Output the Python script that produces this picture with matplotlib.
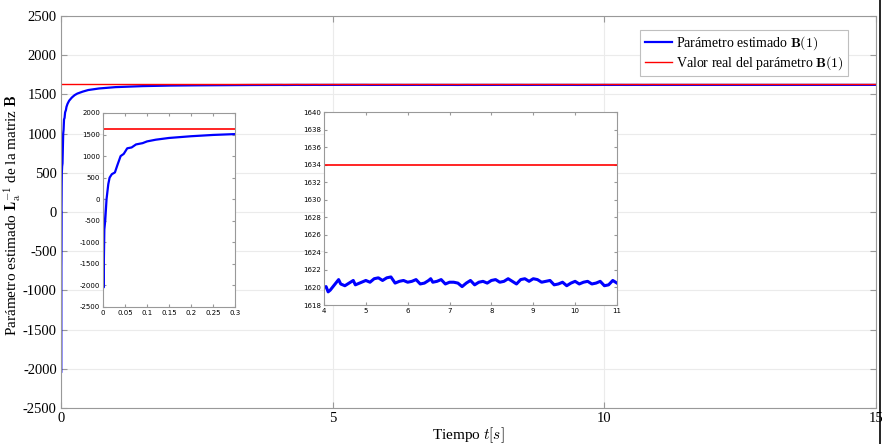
import matplotlib
matplotlib.use("Agg")
import matplotlib.pyplot as plt
from matplotlib.lines import Line2D

plt.rcParams["mathtext.fontset"] = "cm"
plt.rcParams["font.family"] = ["Liberation Serif", "DejaVu Serif"]
plt.rcParams["axes.unicode_minus"] = False

# valor real del parámetro
valor_real = 1634.0

# transitorio (0 .. 4 s)
t_trans = [0.0, 0.001, 0.003, 0.005, 0.008, 0.012, 0.015, 0.02, 0.027, 0.033,
           0.04, 0.047, 0.055, 0.065, 0.075, 0.09, 0.1, 0.12, 0.15, 0.2,
           0.25, 0.3, 0.4, 0.5, 0.7, 1.0, 1.5, 2.0, 2.5, 3.0, 3.5]
b_trans = [0, -2050, -700, -500, 0, 350, 500, 580, 620, 800,
           1000, 1050, 1180, 1200, 1270, 1300, 1340, 1380, 1420, 1460,
           1490, 1510, 1535, 1555, 1575, 1592, 1605, 1612, 1615, 1617, 1619]

# régimen permanente (4 .. 11 s)
t_perm = [4.0, 4.05, 4.1, 4.15, 4.2, 4.3, 4.35, 4.4, 4.5, 4.6, 4.7, 4.75, 4.9,
          5.0, 5.1, 5.2, 5.3, 5.4, 5.5, 5.6, 5.7, 5.8, 5.9, 6.0, 6.1, 6.2,
          6.3, 6.4, 6.5, 6.55, 6.6, 6.7, 6.8, 6.9, 7.0, 7.1, 7.2, 7.3, 7.4,
          7.5, 7.6, 7.7, 7.8, 7.9, 8.0, 8.1, 8.2, 8.3, 8.4, 8.5, 8.6, 8.7,
          8.8, 8.9, 9.0, 9.1, 9.2, 9.3, 9.4, 9.5, 9.6, 9.7, 9.8, 9.9, 10.0,
          10.1, 10.2, 10.3, 10.4, 10.5, 10.6, 10.7, 10.8, 10.9, 11.0]
b_perm = [1620.0, 1620.1, 1619.5, 1619.7, 1620.0, 1620.6, 1620.9, 1620.4, 1620.2,
          1620.5, 1620.8, 1620.3, 1620.6, 1620.8, 1620.6, 1621.0, 1621.1, 1620.8,
          1621.1, 1621.2, 1620.5, 1620.7, 1620.8, 1620.6, 1620.7, 1620.9, 1620.4,
          1620.5, 1620.8, 1621.0, 1620.6, 1620.7, 1620.9, 1620.4, 1620.6, 1620.6,
          1620.5, 1620.1, 1620.5, 1620.8, 1620.3, 1620.6, 1620.7, 1620.5, 1620.8,
          1620.9, 1620.6, 1620.7, 1621.0, 1620.7, 1620.4, 1620.9, 1621.0, 1620.7,
          1621.0, 1620.9, 1620.6, 1620.7, 1620.8, 1620.3, 1620.4, 1620.6, 1620.2,
          1620.5, 1620.7, 1620.4, 1620.6, 1620.7, 1620.4, 1620.5, 1620.7, 1620.2,
          1620.3, 1620.8, 1620.5]

# resto de la simulación (11 .. 15 s)
t_fin = [12.0, 13.0, 14.0, 15.0]
b_fin = [1620.6, 1620.5, 1620.7, 1620.6]

t_all = t_trans + t_perm + t_fin
b_all = b_trans + b_perm + b_fin

spine_gray = "0.6"

fig = plt.figure(figsize=(8.82, 4.44), dpi=100)
ax = fig.add_axes([0.0692, 0.0811, 0.924, 0.883])
ax.plot(t_all, b_all, color="blue", lw=1.6,
        label=r"Parámetro estimado $\mathbf{B}(1)$")
ax.axhline(valor_real, color="red", lw=1.0,
           label=r"Valor real del parámetro $\mathbf{B}(1)$")
ax.set_xlim(0, 15)
ax.set_ylim(-2500, 2500)
ax.set_xticks([0, 5, 10, 15])
ax.set_yticks(range(-2500, 2501, 500))
ax.grid(True, color="0.92", lw=0.8)
ax.tick_params(direction="in", labelsize=10.5, color=spine_gray, length=4,
               right=True, top=True, pad=3)
for s in ax.spines.values():
    s.set_color(spine_gray)
ax.set_xlabel(r"Tiempo $t[s]$", fontsize=11)
ax.xaxis.set_label_coords(0.5, -0.045)
ax.set_ylabel(r"Parámetro estimado $\mathbf{L}_{\rm a}^{-1}$ de la matriz $\mathbf{B}$",
              fontsize=11)
ax.yaxis.set_label_coords(-0.059, 0.492)
ax.yaxis.label.set_verticalalignment("center")
leg = ax.legend(loc="upper right", bbox_to_anchor=(0.966, 0.964), fontsize=10,
                fancybox=False, framealpha=1, edgecolor="0.75",
                handlelength=2.0, borderpad=0.3, labelspacing=0.15,
                handletextpad=0.3, borderaxespad=0)
leg.get_frame().set_linewidth(0.8)

# inset transitorio
ax1 = fig.add_axes([0.1168, 0.3086, 0.1497, 0.437])
ax1.plot(t_trans, b_trans, color="blue", lw=1.6)
ax1.axhline(valor_real, color="red", lw=1.2)
ax1.set_xlim(0, 0.3)
ax1.set_ylim(-2500, 2000)
ax1.set_xticks([0, 0.05, 0.1, 0.15, 0.2, 0.25, 0.3])
ax1.set_xticklabels(["0", "0.05", "0.1", "0.15", "0.2", "0.25", "0.3"])
ax1.set_yticks(range(-2500, 2001, 500))

# inset régimen permanente
ax2 = fig.add_axes([0.3673, 0.313, 0.3322, 0.4347])
ax2.plot(t_perm, b_perm, color="blue", lw=2.2)
ax2.axhline(valor_real, color="red", lw=1.2)
ax2.set_xlim(4, 11)
ax2.set_ylim(1618, 1640)
ax2.set_xticks(range(4, 12))
ax2.set_yticks(range(1618, 1641, 2))

for a in (ax1, ax2):
    a.tick_params(direction="in", labelsize=5, color=spine_gray, length=2,
                  right=True, top=True, pad=2)
    for lab in a.get_xticklabels() + a.get_yticklabels():
        lab.set_family("DejaVu Sans")
    for s in a.spines.values():
        s.set_color(spine_gray)

fig.add_artist(Line2D([880 / 882, 880 / 882], [0, 1], color="black", lw=1.2))

fig.savefig("out.png", dpi=100)
